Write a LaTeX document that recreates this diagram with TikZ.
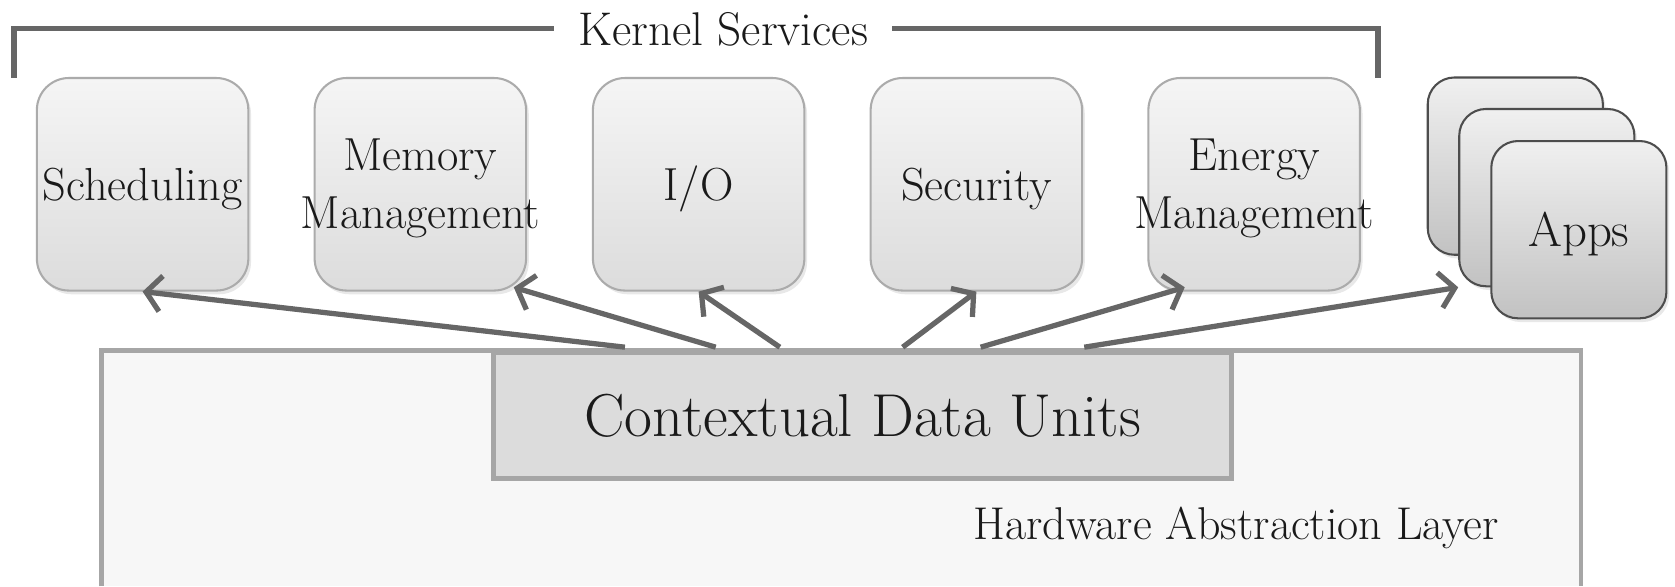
\documentclass[tikz,border=0pt]{standalone}
\usepackage{fontspec}
\usetikzlibrary{arrows.meta,shadows}

\definecolor{arrowgray}{HTML}{666666}
\definecolor{boxline}{HTML}{ABABAB}
\definecolor{boxtop}{HTML}{F5F5F5}
\definecolor{boxbot}{HTML}{DCDCDC}
\definecolor{apptop}{HTML}{F0F0F0}
\definecolor{appbot}{HTML}{C2C2C2}
\definecolor{appline}{HTML}{4D4D4D}
\definecolor{halfill}{HTML}{F7F7F7}
\definecolor{cdufill}{HTML}{DCDCDC}
\definecolor{layerline}{HTML}{A6A6A6}
\definecolor{txt}{HTML}{1A1A1A}

\begin{document}
\begin{tikzpicture}[x=0.02cm,y=-0.02cm,
  svc/.style={draw=boxline,line width=1.1pt,rounded corners=0.6cm,
    top color=boxtop,bottom color=boxbot,
    minimum width=3.96cm,minimum height=3.98cm,inner sep=0pt,
    drop shadow={opacity=0.18,shadow xshift=0.05cm,shadow yshift=-0.07cm}},
  app/.style={draw=appline,line width=1.1pt,rounded corners=0.5cm,
    top color=apptop,bottom color=appbot,
    minimum width=3.28cm,minimum height=3.32cm,inner sep=0pt,
    drop shadow={opacity=0.18,shadow xshift=0.05cm,shadow yshift=-0.07cm}},
  lbl/.style={align=center,text=txt,yshift=-0.08cm,font=\fontsize{24.7}{30.7}\selectfont},
  link/.style={draw=arrowgray,line width=2.8pt,
    -{Straight Barb[length=8pt,width=19pt]}},
  bracket/.style={draw=arrowgray,line width=2.8pt}]
\useasboundingbox (0,0) rectangle (1568,549);

% layers
\fill[halfill] (95,328) rectangle (1480,549);
\draw[layerline,line width=2.4pt] (95,549) -- (95,328) -- (1480,328) -- (1480,549);
\node[draw=layerline,line width=2.8pt,fill=cdufill,minimum width=13.82cm,minimum height=2.36cm,
  inner sep=0pt,text=txt,font=\fontsize{32.3}{36}\selectfont] (cdu) at (807.5,389) {Contextual Data Units};
\node[text=txt,font=\fontsize{24.5}{28}\selectfont] (hal) at (1157,494) {Hardware Abstraction Layer};

% kernel services
\node[svc,label={[lbl]center:Scheduling}] (sched) at (133.5,172.5) {};
\node[svc,label={[lbl]center:Memory\\Management}] (mem) at (393.5,172.5) {};
\node[svc,label={[lbl]center:I/O}] (io) at (654,172.5) {};
\node[svc,label={[lbl]center:Security}] (sec) at (914,172.5) {};
\node[svc,label={[lbl]center:Energy\\Management}] (en) at (1174,172.5) {};

% apps stack
\node[app] (app1) at (1418.5,155.5) {};
\node[app] (app2) at (1448,185) {};
\node[app,label={[lbl,font=\fontsize{26}{30}\selectfont]center:Apps}] (app3) at (1478,215) {};

% bracket
\node[fill=white,inner xsep=0.45cm,inner ysep=2pt,text=txt,font=\fontsize{25.2}{28}\selectfont] (ks) at (677,27) {Kernel Services};
\coordinate (bl) at (13,73);
\coordinate (br) at (1290,73);
\draw[bracket] (bl) |- (ks.west);
\draw[bracket] (ks.east) -| (br);

% arrows
\coordinate (o1) at (585,325);
\coordinate (o2) at (670,325);
\coordinate (o3) at (730,325);
\coordinate (o4) at (845,325);
\coordinate (o5) at (918,325);
\coordinate (o6) at (1015,325);
\draw[link] (o1) -- (sched.south);
\draw[link] (o2) -- ([xshift=-0.25cm,yshift=0.08cm]mem.south east);
\draw[link] (o3) -- (io.south);
\draw[link] (o4) -- (sec.south);
\draw[link] (o5) -- ([xshift=0.7cm,yshift=0.08cm]en.south west);
\draw[link] (o6) -- (app2.south west);
\end{tikzpicture}
\end{document}
